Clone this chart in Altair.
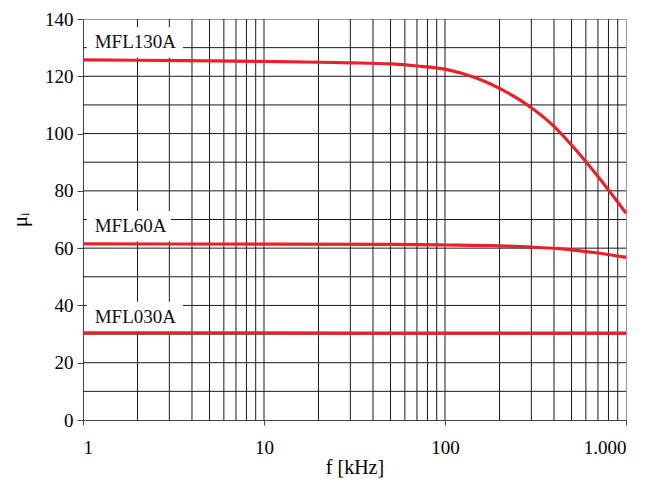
import altair as alt
import pandas as pd

# --- data ---
f130 = [1, 2, 5, 10, 20, 30, 50, 70, 100, 150, 200, 300, 400, 500, 700, 1000]
mu130 = [125.7, 125.6, 125.4, 125.2, 124.9, 124.7, 124.3, 123.6, 122.5, 119.3, 115.8,
         109.0, 102.5, 96.0, 85.0, 72.2]
f60 = [1, 10, 50, 100, 200, 300, 500, 700, 1000]
mu60 = [61.5, 61.4, 61.3, 61.1, 60.8, 60.4, 59.4, 58.3, 56.8]
f30 = [1, 10, 100, 1000]
mu30 = [30.4, 30.4, 30.3, 30.3]

labels = ["MFL130A", "MFL60A", "MFL030A"]
label_mu = [131.8, 67.7, 36.0]
label_f_end = [3.57, 3.06, 3.57]

x_ticks = [1, 10, 100, 1000]
y_ticks = [0, 20, 40, 60, 80, 100, 120, 140]
grid_f = [m * 10 ** e for e in range(3) for m in range(1, 10)][1:]
grid_mu = list(range(10, 140, 10))

FONT = "Liberation Serif, Times New Roman, serif"
RED = "#e8212b"

lines_df = pd.concat([
    pd.DataFrame({"f": f130, "mu": mu130, "s": labels[0]}),
    pd.DataFrame({"f": f60, "mu": mu60, "s": labels[1]}),
    pd.DataFrame({"f": f30, "mu": mu30, "s": labels[2]}),
])
lab_df = pd.DataFrame({
    "name": labels,
    "mu": label_mu,
    "lo": [v - 5.3 for v in label_mu],
    "hi": [v + 5.3 for v in label_mu],
    "f0": [1.05] * 3,
    "ft": [1.16] * 3,
    "f1": label_f_end,
})

xs = alt.Scale(type="log", domain=[1, 1000], nice=False)
ys = alt.Scale(domain=[0, 140], nice=False, zero=False)

x_axis = alt.Axis(
    values=x_ticks, grid=False, tickSize=5, tickColor="#444", domainColor="#444",
    labelFont=FONT, labelFontSize=19, labelColor="black", labelPadding=13,
    labelExpr="datum.value == 1000 ? '1.000' : datum.label",
    title="f [kHz]", titleFont=FONT, titleFontSize=20, titleFontWeight="normal",
    titleColor="black", titleY=37, titleBaseline="top",
)
y_axis = alt.Axis(
    values=y_ticks, grid=False, tickSize=6, tickColor="#444", domainColor="#444",
    labelFont=FONT, labelFontSize=19, labelColor="black", labelPadding=4,
    title="μᵢ", titleFont=FONT, titleFontSize=21, titleFontWeight="normal",
    titleColor="black", titlePadding=14,
)

gx = alt.Chart(pd.DataFrame({"f": grid_f})).mark_rule(color="#1a1a1a", strokeWidth=1).encode(
    x=alt.X("f:Q", scale=xs, axis=x_axis)
)
gy = alt.Chart(pd.DataFrame({"mu": grid_mu})).mark_rule(color="#1a1a1a", strokeWidth=1).encode(
    y=alt.Y("mu:Q", scale=ys, axis=y_axis)
)
boxes = alt.Chart(lab_df).mark_rect(color="white").encode(
    x=alt.X("f0:Q", scale=xs), x2="f1:Q",
    y=alt.Y("lo:Q", scale=ys), y2="hi:Q",
)
texts = alt.Chart(lab_df).mark_text(
    align="left", baseline="middle", font=FONT, fontSize=19, color="#111"
).encode(
    x=alt.X("ft:Q", scale=xs), y=alt.Y("mu:Q", scale=ys), text="name:N"
)
curves = alt.Chart(lines_df).mark_line(color=RED, strokeWidth=3.2, interpolate="monotone").encode(
    x=alt.X("f:Q", scale=xs), y=alt.Y("mu:Q", scale=ys), detail="s:N"
)

chart = alt.layer(gx, gy, boxes, texts, curves).properties(
    width=543, height=401,
    autosize=alt.AutoSizeParams(type="none"),
    padding={"left": 75, "top": 11, "right": 14, "bottom": 59},
).configure_view(stroke="#999", strokeWidth=1)

chart.save("out.html", embed_options={"renderer": "svg", "actions": False})
